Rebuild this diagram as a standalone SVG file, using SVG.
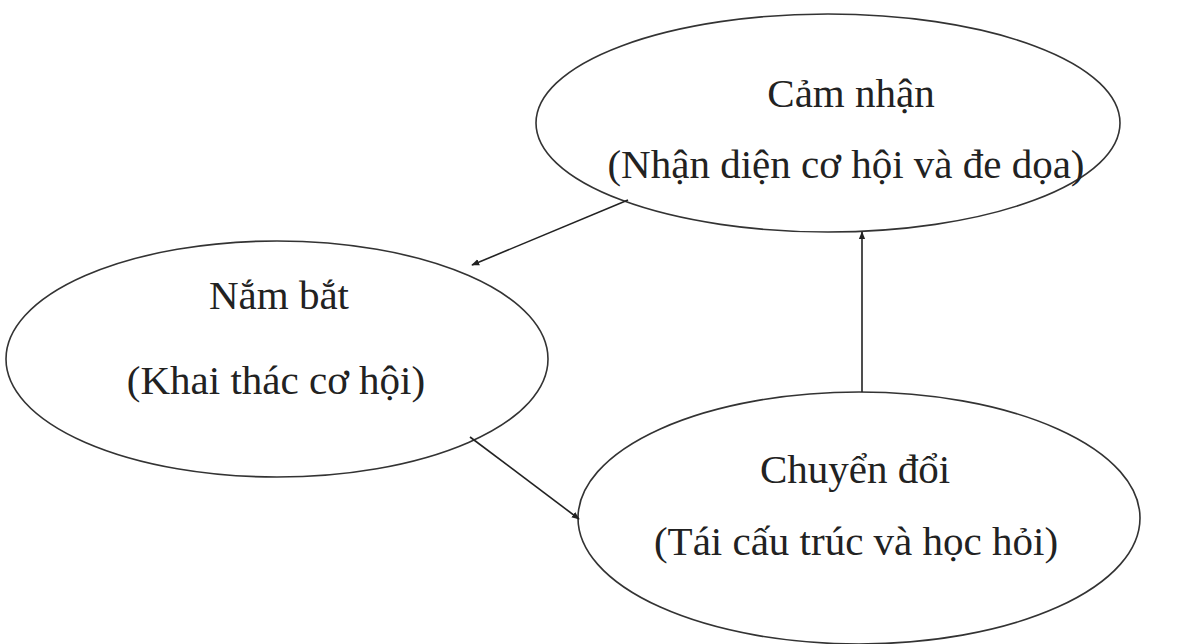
<svg xmlns="http://www.w3.org/2000/svg" width="1180" height="644" viewBox="0 0 1180 644">
<style>
.node{fill:#fff;stroke:#333;stroke-width:1.6}
.lbl{font-family:"Liberation Serif","Times New Roman",serif;font-size:41px;fill:#222;text-anchor:middle}
.edge{stroke:#222;stroke-width:1.6;fill:none}
</style>
<defs>
<marker id="ah" viewBox="0 0 10 10" refX="9" refY="5" markerWidth="8" markerHeight="8" orient="auto" markerUnits="userSpaceOnUse">
<path d="M0,1 L10,5 L0,9 z" fill="#222"/>
</marker>
</defs>
<rect width="1180" height="644" fill="#fff"/>
<g id="node-cam-nhan">
<ellipse class="node" cx="828" cy="123" rx="292" ry="109"/>
<text class="lbl" x="851" y="107">Cảm nhận</text>
<text class="lbl" x="846" y="178">(Nhận diện cơ hội và đe dọa)</text>
</g>
<g id="node-nam-bat">
<ellipse class="node" cx="277" cy="359" rx="271" ry="118"/>
<text class="lbl" x="279" y="309">Nắm bắt</text>
<text class="lbl" x="276" y="394">(Khai thác cơ hội)</text>
</g>
<g id="node-chuyen-doi">
<ellipse class="node" cx="859" cy="518" rx="281" ry="126"/>
<text class="lbl" x="855" y="483">Chuyển đổi</text>
<text class="lbl" x="856" y="555">(Tái cấu trúc và học hỏi)</text>
</g>
<g id="connectors">
<line class="edge" x1="628" y1="200" x2="472" y2="265" marker-end="url(#ah)"/>
<line class="edge" x1="470" y1="437" x2="579" y2="519" marker-end="url(#ah)"/>
<line class="edge" x1="862" y1="392" x2="862" y2="232" marker-end="url(#ah)"/>
</g>
</svg>
